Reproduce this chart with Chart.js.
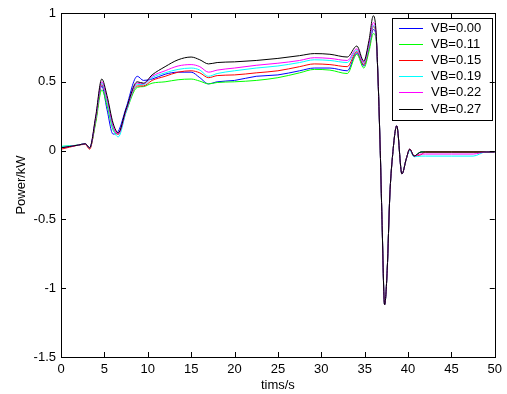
<!DOCTYPE html>
<html>
<head>
<meta charset="utf-8">
<script src="https://cdn.jsdelivr.net/npm/chart.js@4"></script>
<style>
  html, body { margin: 0; padding: 0; background: #fff; }
  #wrap { width: 507px; height: 394px; }
</style>
</head>
<body>
<div id="wrap"><canvas id="powerChart"></canvas></div>
<script>
// time axis (s), shared by all series
const times = [0, 1, 2, 2.8, 3.3, 4, 4.7, 5.3, 6, 6.6, 7.5, 8.8, 9.5,
  10.5, 12, 13.5, 15, 16, 17, 18, 20, 22.5, 25, 27.5, 29.2, 31, 33, 34.1, 34.9, 35.5, 36,
  36.3, 36.5, 36.8, 37.0, 37.3, 37.6, 37.9, 38.2, 38.7, 39.3, 39.8, 40.2, 40.7, 41.5, 42, 45, 47.5, 49, 50];

const seriesLabels = ['VB=0.00', 'VB=0.11', 'VB=0.15', 'VB=0.19', 'VB=0.22', 'VB=0.27'];

// power (kW) for each VB
const vb000 = [0.02, 0.03, 0.04, 0.05, 0.02, 0.22, 0.47, 0.30, 0.12, 0.14, 0.31, 0.54, 0.51,
  0.52, 0.555, 0.57, 0.57, 0.53, 0.485, 0.50, 0.51, 0.54, 0.55, 0.58, 0.60, 0.60, 0.58, 0.71, 0.615, 0.74, 0.88,
  0.84, 0.60, 0.0, -0.5, -1.12, -0.87, -0.33, -0.05, 0.18, -0.17, -0.06, 0.01, -0.04, -0.01, -0.01, -0.01, -0.01, -0.01, -0.01];
const vb011 = [0.03, 0.035, 0.04, 0.05, 0.02, 0.20, 0.44, 0.33, 0.15, 0.12, 0.28, 0.46, 0.465,
  0.49, 0.50, 0.515, 0.52, 0.505, 0.485, 0.495, 0.50, 0.51, 0.53, 0.565, 0.59, 0.585, 0.56, 0.70, 0.60, 0.72, 0.85,
  0.82, 0.60, 0.0, -0.5, -1.12, -0.87, -0.33, -0.05, 0.18, -0.17, -0.06, 0.01, -0.04, -0.01, -0.01, -0.01, -0.01, -0.01, -0.01];
const vb015 = [0.01, 0.025, 0.04, 0.045, 0.01, 0.22, 0.48, 0.36, 0.17, 0.12, 0.29, 0.47, 0.47,
  0.51, 0.54, 0.57, 0.58, 0.565, 0.53, 0.545, 0.55, 0.565, 0.58, 0.61, 0.63, 0.625, 0.61, 0.72, 0.625, 0.75, 0.90,
  0.85, 0.60, 0.0, -0.5, -1.12, -0.87, -0.33, -0.05, 0.18, -0.17, -0.06, 0.01, -0.04, -0.03, -0.01, -0.01, -0.01, -0.01, -0.01];
const vb019 = [0.03, 0.035, 0.04, 0.05, 0.02, 0.23, 0.49, 0.36, 0.16, 0.10, 0.28, 0.48, 0.48,
  0.53, 0.565, 0.59, 0.60, 0.585, 0.54, 0.56, 0.58, 0.60, 0.615, 0.64, 0.66, 0.655, 0.64, 0.73, 0.635, 0.76, 0.91,
  0.85, 0.60, 0.0, -0.5, -1.12, -0.87, -0.33, -0.05, 0.18, -0.17, -0.06, 0.0, -0.045, -0.04, -0.04, -0.04, -0.04, -0.01, -0.01];
const vb022 = [0.02, 0.03, 0.04, 0.05, 0.02, 0.24, 0.50, 0.38, 0.18, 0.12, 0.29, 0.49, 0.485,
  0.54, 0.58, 0.615, 0.625, 0.61, 0.57, 0.585, 0.60, 0.62, 0.635, 0.655, 0.675, 0.67, 0.655, 0.74, 0.64, 0.78, 0.93,
  0.86, 0.60, 0.0, -0.5, -1.12, -0.87, -0.33, -0.05, 0.18, -0.17, -0.06, 0.01, -0.04, -0.025, -0.025, -0.025, -0.025, -0.01, -0.01];
const vb027 = [0.02, 0.03, 0.04, 0.05, 0.02, 0.25, 0.52, 0.40, 0.20, 0.13, 0.30, 0.50, 0.49,
  0.55, 0.61, 0.66, 0.68, 0.66, 0.63, 0.64, 0.645, 0.655, 0.67, 0.69, 0.705, 0.70, 0.68, 0.76, 0.65, 0.80, 0.98,
  0.88, 0.60, 0.0, -0.5, -1.12, -0.87, -0.33, -0.05, 0.18, -0.17, -0.06, 0.01, -0.04, -0.01, -0.01, -0.01, -0.01, -0.01, -0.01];

const seriesValues = [vb000, vb011, vb015, vb019, vb022, vb027];
const lineColors = ['#0000ff', '#00ff00', '#ff0000', '#00ffff', '#ff00ff', '#000000'];

const FONT = 'Arial, "Liberation Sans", sans-serif';

// MATLAB-style box with inward ticks
const boxPlugin = {
  id: 'boxTicks',
  afterDraw(chart) {
    const ctx = chart.ctx;
    const a = chart.chartArea;
    const xs = chart.scales.x, ys = chart.scales.y;
    ctx.save();
    ctx.strokeStyle = '#000';
    ctx.lineWidth = 1;
    ctx.strokeRect(Math.round(a.left) + 0.5, Math.round(a.top) + 0.5,
      Math.round(a.right - a.left), Math.round(a.bottom - a.top));
    const len = 5;
    ctx.beginPath();
    xs.ticks.forEach(t => {
      const px = Math.round(xs.getPixelForValue(t.value)) + 0.5;
      ctx.moveTo(px, a.bottom); ctx.lineTo(px, a.bottom - len);
      ctx.moveTo(px, a.top); ctx.lineTo(px, a.top + len);
    });
    ys.ticks.forEach(t => {
      const py = Math.round(ys.getPixelForValue(t.value)) + 0.5;
      ctx.moveTo(a.left, py); ctx.lineTo(a.left + len, py);
      ctx.moveTo(a.right, py); ctx.lineTo(a.right - len, py);
    });
    ctx.stroke();
    ctx.restore();
  }
};

// legend box in the upper right of the plot
const legendPlugin = {
  id: 'boxLegend',
  afterDatasetsDraw(chart) {
    const ctx = chart.ctx;
    const x0 = 392, y0 = 18, w = 100, h = 102;
    ctx.save();
    ctx.fillStyle = '#fff';
    ctx.fillRect(x0, y0, w, h);
    ctx.strokeStyle = '#000';
    ctx.lineWidth = 1;
    ctx.strokeRect(x0 + 0.5, y0 + 0.5, w, h);
    ctx.font = '13px ' + FONT;
    ctx.textBaseline = 'middle';
    ctx.textAlign = 'left';
    chart.data.datasets.forEach((ds, i) => {
      const cy = 27.5 + i * 16.2;
      ctx.strokeStyle = ds.borderColor;
      ctx.beginPath();
      ctx.moveTo(399, Math.round(cy) + 0.5);
      ctx.lineTo(423, Math.round(cy) + 0.5);
      ctx.stroke();
      ctx.fillStyle = '#000';
      ctx.fillText(ds.label, 431, cy + 0.5);
    });
    ctx.restore();
  }
};

const datasets = seriesLabels.map((label, i) => ({
  label: label,
  data: times.map((t, k) => ({ x: t, y: seriesValues[i][k] })),
  borderColor: lineColors[i],
  borderWidth: 1,
  pointRadius: 0,
  cubicInterpolationMode: 'monotone',
  fill: false,
  order: seriesLabels.length - i
}));

new Chart(document.getElementById('powerChart'), {
  type: 'line',
  data: { datasets: datasets },
  options: {
    responsive: true,
    maintainAspectRatio: false,
    animation: false,
    layout: { padding: { top: 13, right: 8, left: 0, bottom: 0 } },
    plugins: {
      legend: { display: false },
      tooltip: { enabled: false }
    },
    scales: {
      x: {
        type: 'linear',
        min: 0, max: 50,
        grid: { display: false, drawTicks: false },
        border: { display: false },
        ticks: { stepSize: 5, color: '#000', padding: 5, font: { size: 13, family: FONT } },
        title: { display: true, text: 'tims/s', color: '#000', padding: { top: 0, bottom: 1 },
          font: { size: 13, family: FONT } },
        afterFit(scale) { scale.height = 37; }
      },
      y: {
        min: -1.5, max: 1,
        grid: { display: false, drawTicks: false },
        border: { display: false },
        ticks: { stepSize: 0.5, color: '#000', padding: 5, font: { size: 13, family: FONT },
          callback: v => String(+v.toFixed(1)) },
        title: { display: true, text: 'Power/kW', color: '#000', padding: { top: 14, bottom: 0 },
          font: { size: 13, family: FONT } },
        afterFit(scale) { scale.width = 61; }
      }
    }
  },
  plugins: [boxPlugin, legendPlugin]
});
</script>
</body>
</html>
